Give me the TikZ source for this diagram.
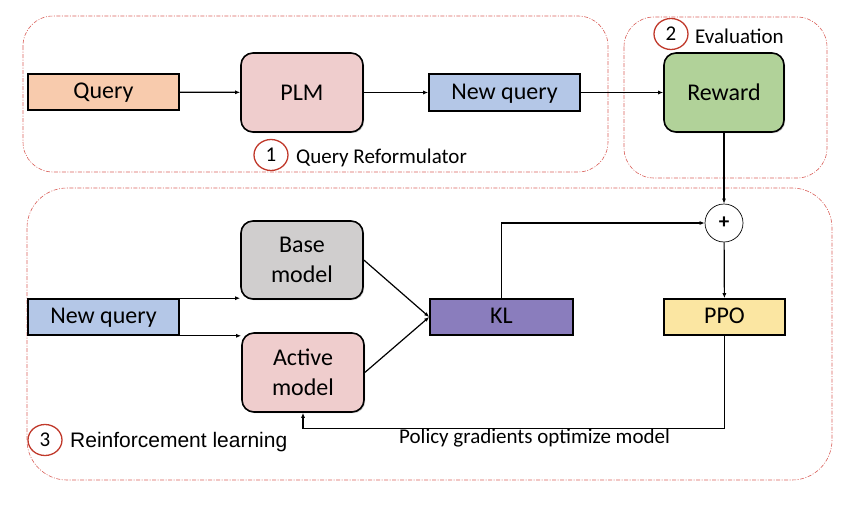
\documentclass[tikz,border=0pt]{standalone}
\usepackage{fontspec}
\setmainfont{Carlito}
\newfontfamily\arialfont{Liberation Sans}
\usetikzlibrary{arrows.meta,shadows,calc}

\definecolor{peach}{HTML}{F8CBAD}
\definecolor{rose}{HTML}{EFCDCD}
\definecolor{skyblue}{HTML}{B4C7E7}
\definecolor{leaf}{HTML}{B1D299}
\definecolor{stone}{HTML}{D0CECE}
\definecolor{lilac}{HTML}{8A7DBD}
\definecolor{butter}{HTML}{FBE6A2}
\definecolor{groupred}{HTML}{D9605A}
\definecolor{badgered}{HTML}{C0392B}

\tikzset{
  bigtext/.style={font=\fontsize{24}{27}\selectfont},
  smalltext/.style={font=\fontsize{21}{24}\selectfont},
  boxshadow/.style={drop shadow={shadow xshift=1.2pt, shadow yshift=-1.2pt, opacity=0.35, fill=black!60}},
  flatbox/.style={draw, line width=1.6pt, bigtext, inner sep=0pt, boxshadow, text depth=0.5ex},
  roundbox/.style={flatbox, rounded corners=12pt, align=center, text depth=0pt},
  group/.style={draw=groupred, line width=0.6pt, dash pattern=on 4pt off 1.5pt on 1pt off 1.5pt, rounded corners=30pt},
  badge/.style={draw=badgered, line width=1.3pt, ellipse, smalltext, inner sep=0pt, minimum width=34pt, minimum height=31pt},
  arr/.style={line width=1.2pt, -{Latex[length=5pt,width=4pt]}},
}
\usetikzlibrary{shapes.geometric}

\begin{document}
\begin{tikzpicture}[x=1pt,y=-1pt]
  \useasboundingbox (0,0) rectangle (868,506);

  % dashed groups
  \draw[group] (23,16) rectangle (608,172);
  \draw[group] (624,17) rectangle (827,178);
  \draw[group, rounded corners=40pt] (27,188) rectangle (832,480);

  % stage 1: query reformulator
  \node[flatbox, fill=peach, minimum width=151pt, minimum height=36pt] (query) at (103.5,92) {Query};
  \node[roundbox, fill=rose, minimum width=122pt, minimum height=79pt] (plm) at (302,92.5) {PLM};
  \node[flatbox, fill=skyblue, minimum width=151pt, minimum height=37pt] (newq) at (504.5,92.5) {New query};
  \node[badge] (one) at (271,155) {1};
  \node[smalltext, anchor=base west, inner sep=0pt] (reform) at (296,163) {Query Reformulator};

  % stage 2: evaluation
  \node[roundbox, fill=leaf, minimum width=120pt, minimum height=79pt] (reward) at (724,92.5) {Reward};
  \node[badge] (two) at (671,34) {2};
  \node[smalltext, anchor=base west, inner sep=0pt] (evallabel) at (695,43) {Evaluation};

  % stage 3: reinforcement learning
  \node[flatbox, fill=skyblue, minimum width=151pt, minimum height=36pt] (newqb) at (103.5,317) {New query};
  \node[roundbox, fill=stone, minimum width=122pt, minimum height=78pt] (base) at (302,260) {Base\\[3pt]model};
  \node[roundbox, fill=rose, minimum width=122pt, minimum height=79pt] (active) at (303,372.5) {Active\\[3pt]model};
  \node[flatbox, fill=lilac, minimum width=143pt, minimum height=36pt] (kl) at (501.5,317) {KL};
  \node[flatbox, fill=butter, minimum width=121pt, minimum height=36pt] (ppo) at (724.5,317) {PPO};
  \node[draw, circle, line width=0.7pt, minimum size=38pt, inner sep=0pt, smalltext] (plus) at (724,223) {\textbf{+}};
  \node[badge] (three) at (45,440) {3};
  \node[font=\arialfont\fontsize{21}{24}\selectfont, anchor=base west, inner sep=0pt] (rllabel) at (70,447) {Reinforcement learning};
  \node[smalltext, anchor=base west, inner sep=0pt] (pglabel) at (399,443) {Policy gradients optimize model};

  % connectors
  \draw[arr] (query) -- (plm);
  \draw[arr] (plm) -- (newq);
  \draw[arr] (newq) -- (reward);
  \draw[arr] (reward) -- (plus);
  \draw[arr] (kl.north) |- (plus.west);
  \draw[arr] (plus) -- (ppo);
  \draw[arr] (newqb.north east) -- (newqb.north east -| base.west);
  \draw[arr] (newqb.south east) -- (newqb.south east -| active.west);
  \draw[arr] (base.east) -- (kl.west);
  \draw[arr] (active.east) -- (kl.west);
  \coordinate (turn) at ($(ppo.south)+(0,93)$);
  \draw[arr] (ppo.south) -- (turn) -| (active.south);
\end{tikzpicture}
\end{document}
